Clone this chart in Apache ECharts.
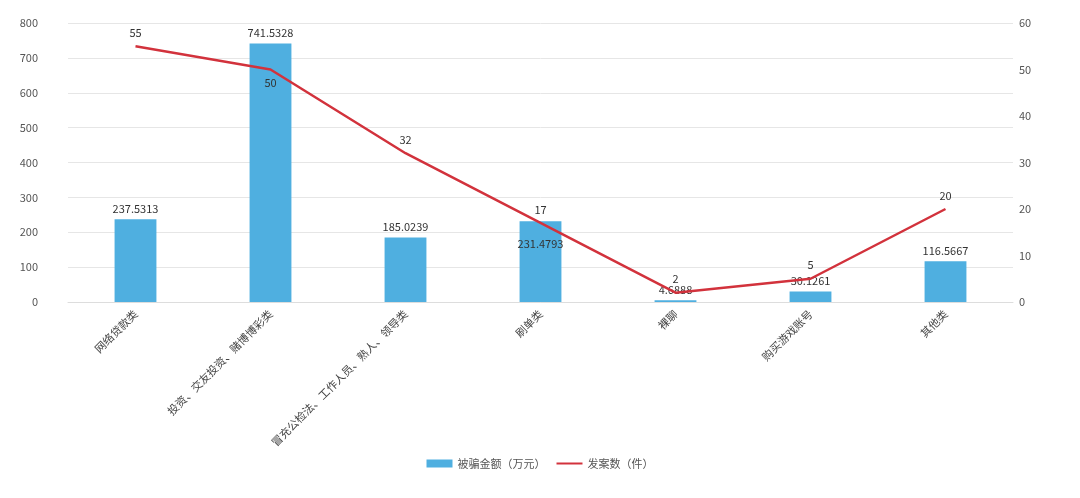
<!DOCTYPE html>
<html>
<head>
<meta charset="utf-8">
<script src="https://cdn.jsdelivr.net/npm/echarts@6/dist/echarts.min.js"></script>
<style>
  html, body { margin: 0; padding: 0; background: #fff; }
  #chart { width: 1080px; height: 498px; }
</style>
</head>
<body>
<div id="chart"></div>
<script>
var categories = ["网络贷款类", "投资、交友投资、赌博博彩类", "冒充公检法、工作人员、熟人、领导类", "刷单类", "裸聊", "购买游戏账号", "其他类"];
var amountData = [237.5313, 741.5328, 185.0239, 231.4793, 4.6888, 30.1261, 116.5667];
var caseData = [55, 50, 32, 17, 2, 5, 20];

// 个别标签位置（原图中标签重叠时被挤开）
var barLabelPos = ["top", "top", "top", "insideTop", "top", "top", "top"];
var lineLabelPos = ["top", "bottom", "top", "top", "top", "top", "top"];

var chart = echarts.init(document.getElementById("chart"));
chart.setOption({
  animation: false,
  textStyle: { fontFamily: "'Noto Sans CJK SC', 'Noto Sans', sans-serif" },
  grid: {
    left: 68,
    right: 67,
    top: 23,
    bottom: 196,
    containLabel: false
  },
  legend: {
    bottom: 24,
    left: "center",
    itemWidth: 26,
    itemHeight: 8,
    itemGap: 10,
    textStyle: { color: "#555", fontSize: 11 },
    data: [
      { name: "被骗金额（万元）", icon: "rect" },
      { name: "发案数（件）", itemStyle: { opacity: 0 } }
    ]
  },
  xAxis: {
    type: "category",
    data: categories,
    axisTick: { show: false },
    axisLine: { lineStyle: { color: "#ddd" } },
    axisLabel: {
      rotate: 45,
      interval: 0,
      color: "#444",
      fontSize: 11,
      margin: 10
    }
  },
  yAxis: [
    {
      type: "value",
      min: 0,
      max: 800,
      interval: 100,
      axisLine: { show: false },
      axisTick: { show: false },
      axisLabel: { color: "#555", fontSize: 11, margin: 30 },
      splitLine: { lineStyle: { color: "#e6e6e6" } }
    },
    {
      type: "value",
      min: 0,
      max: 60,
      interval: 10,
      axisLine: { show: false },
      axisTick: { show: false },
      axisLabel: { color: "#555", fontSize: 11, margin: 6 },
      splitLine: { show: false }
    }
  ],
  series: [
    {
      name: "被骗金额（万元）",
      type: "bar",
      barWidth: "31%",
      itemStyle: { color: "#4fafe0" },
      data: amountData.map(function (v, i) {
        var lbl = { position: barLabelPos[i] };
        if (barLabelPos[i] === "insideTop") lbl.distance = 17;
        return { value: v, label: lbl };
      }),
      label: {
        show: true,
        color: "#333",
        fontSize: 11,
        formatter: function (p) { return p.value.toFixed(4); }
      }
    },
    {
      name: "发案数（件）",
      type: "line",
      yAxisIndex: 1,
      symbol: "circle",
      symbolSize: 0,
      lineStyle: { color: "#d2323c", width: 2.5 },
      itemStyle: { color: "#d2323c" },
      data: caseData.map(function (v, i) {
        return {
          value: v,
          label: { position: lineLabelPos[i] }
        };
      }),
      label: {
        show: true,
        color: "#333",
        fontSize: 11,
        distance: 8
      }
    }
  ]
});
</script>
</body>
</html>
